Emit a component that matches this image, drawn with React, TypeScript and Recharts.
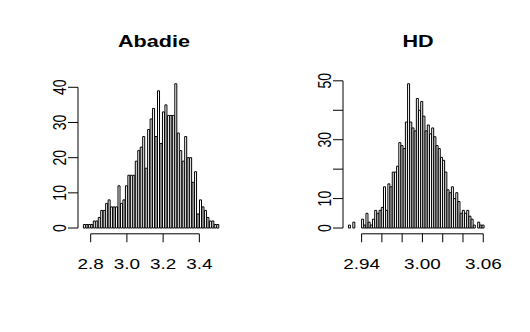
import React from 'react';
import { BarChart, Bar, XAxis, YAxis, ReferenceLine } from 'recharts';

// ---- Abadie histogram ----
const abadieCounts = [
  1, 1, 1, 1, 2, 2, 3, 5, 5, 7, 8, 6, 6, 6, 12, 7, 8, 12, 15, 15, 15, 19, 22, 23, 26, 17, 28, 31,
  34, 26, 39, 24, 33, 35, 32, 32, 32, 41, 27, 22, 19, 26, 20, 20, 13, 16, 4, 8, 6, 5, 3, 2, 2, 1, 1,
];
const abadieBreakRange = [2.76, 3.51];
const abadieXTicks = [2.8, 3.0, 3.2, 3.4];
const abadieXLabels = ['2.8', '3.0', '3.2', '3.4'];
const abadieYTicks = [0, 10, 20, 30, 40];
const abadieYLabels = ['0', '10', '20', '30', '40'];

// ---- HD histogram ----
const hdCounts = [
  1, 0, 2, 0, 0, 0, 3, 1, 5, 2, 1, 3, 6, 5, 6, 7, 14, 6, 15, 14, 19, 19, 21, 29, 28, 27, 36, 49, 36,
  34, 33, 44, 40, 43, 38, 33, 35, 32, 34, 31, 28, 27, 24, 23, 19, 13, 12, 14, 10, 12, 9, 5, 6, 5, 6,
  4, 3, 1, 0, 2, 1, 1,
];
const hdBreakRange = [2.927, 3.061];
const hdXTicks = [2.94, 2.96, 2.98, 3.0, 3.02, 3.04, 3.06];
const hdXLabels = ['2.94', '', '', '3.00', '', '', '3.06'];
const hdYTicks = [0, 10, 20, 30, 40, 50];
const hdYLabels = ['0', '10', '', '30', '', '50'];

const FONT = '"Liberation Sans", Arial, Helvetica, sans-serif';
const SX = 1.35;

function buildBins(counts: number[], range: number[]) {
  const w = (range[1] - range[0]) / counts.length;
  return counts.map((c, i) => ({ x: range[0] + w * (i + 0.5), count: c }));
}

function XTick(props: any) {
  const { x, y, index, labels } = props;
  const label = labels[index] ?? '';
  return (
    <text
      transform={`translate(${x},${y + 25}) scale(${SX},1)`}
      textAnchor="middle"
      fontSize={14}
      fontFamily={FONT}
      fill="#000"
    >
      {label}
    </text>
  );
}

function YTick(props: any) {
  const { x, y, index, labels } = props;
  const label = labels[index] ?? '';
  return (
    <text
      transform={`translate(${x - 0.5},${y}) scale(${SX},1) rotate(-90)`}
      textAnchor="middle"
      fontSize={14}
      fontFamily={FONT}
      fill="#000"
    >
      {label}
    </text>
  );
}

function Hist(props: {
  counts: number[];
  range: number[];
  xTicks: number[];
  xLabels: string[];
  yTicks: number[];
  yLabels: string[];
  left: number;
}) {
  const { counts, range, xTicks, xLabels, yTicks, yLabels, left } = props;
  const data = buildBins(counts, range);
  const r = range[1] - range[0];
  const xMin = range[0] - 0.04 * r;
  const xMax = range[1] + 0.04 * r;
  const ymax = Math.max(...counts);
  const yMin = -0.04 * ymax;
  const yMax = ymax * 1.04;
  return (
    <div style={{ position: 'absolute', left, top: 0 }}>
      <BarChart
        width={265}
        height={332}
        data={data}
        margin={{ top: 78, right: 40.3, left: 18, bottom: 58.2 }}
        barCategoryGap={0}
        barGap={0}
      >
        <XAxis
          type="number"
          dataKey="x"
          domain={[xMin, xMax]}
          allowDataOverflow
          ticks={xTicks}
          interval={0}
          axisLine={false}
          tickLine={{ stroke: '#000' }}
          tickSize={8.5}
          tickMargin={2}
          height={40}
          tick={<XTick labels={xLabels} />}
        />
        <YAxis
          type="number"
          domain={[yMin, yMax]}
          allowDataOverflow
          ticks={yTicks}
          interval={0}
          axisLine={false}
          tickLine={{ stroke: '#000' }}
          tickSize={10}
          tickMargin={2}
          width={60}
          tick={<YTick labels={yLabels} />}
        />
        <Bar dataKey="count" fill="#fff" stroke="#000" strokeWidth={1} isAnimationActive={false} />
        <ReferenceLine
          segment={[
            { x: xTicks[0], y: yMin },
            { x: xTicks[xTicks.length - 1], y: yMin },
          ]}
          stroke="#000"
          ifOverflow="visible"
        />
        <ReferenceLine
          segment={[
            { x: xMin, y: yTicks[0] },
            { x: xMin, y: yTicks[yTicks.length - 1] },
          ]}
          stroke="#000"
          ifOverflow="visible"
        />
      </BarChart>
    </div>
  );
}

export default function App() {
  return (
    <div style={{ position: 'absolute', left: 0, top: 0, width: 530, height: 332, background: '#fff' }}>
      <Hist
        counts={abadieCounts}
        range={abadieBreakRange}
        xTicks={abadieXTicks}
        xLabels={abadieXLabels}
        yTicks={abadieYTicks}
        yLabels={abadieYLabels}
        left={0}
      />
      <Hist
        counts={hdCounts}
        range={hdBreakRange}
        xTicks={hdXTicks}
        xLabels={hdXLabels}
        yTicks={hdYTicks}
        yLabels={hdYLabels}
        left={265}
      />
      <svg
        width={530}
        height={332}
        style={{ position: 'absolute', left: 0, top: 0, pointerEvents: 'none' }}
      >
        <text
          transform={`translate(154,46.5) scale(${SX},1)`}
          textAnchor="middle"
          fontSize={16}
          fontWeight="bold"
          fontFamily={FONT}
          fill="#000"
        >
          Abadie
        </text>
        <text
          transform={`translate(418,46.5) scale(${SX},1)`}
          textAnchor="middle"
          fontSize={16}
          fontWeight="bold"
          fontFamily={FONT}
          fill="#000"
        >
          HD
        </text>
      </svg>
    </div>
  );
}
